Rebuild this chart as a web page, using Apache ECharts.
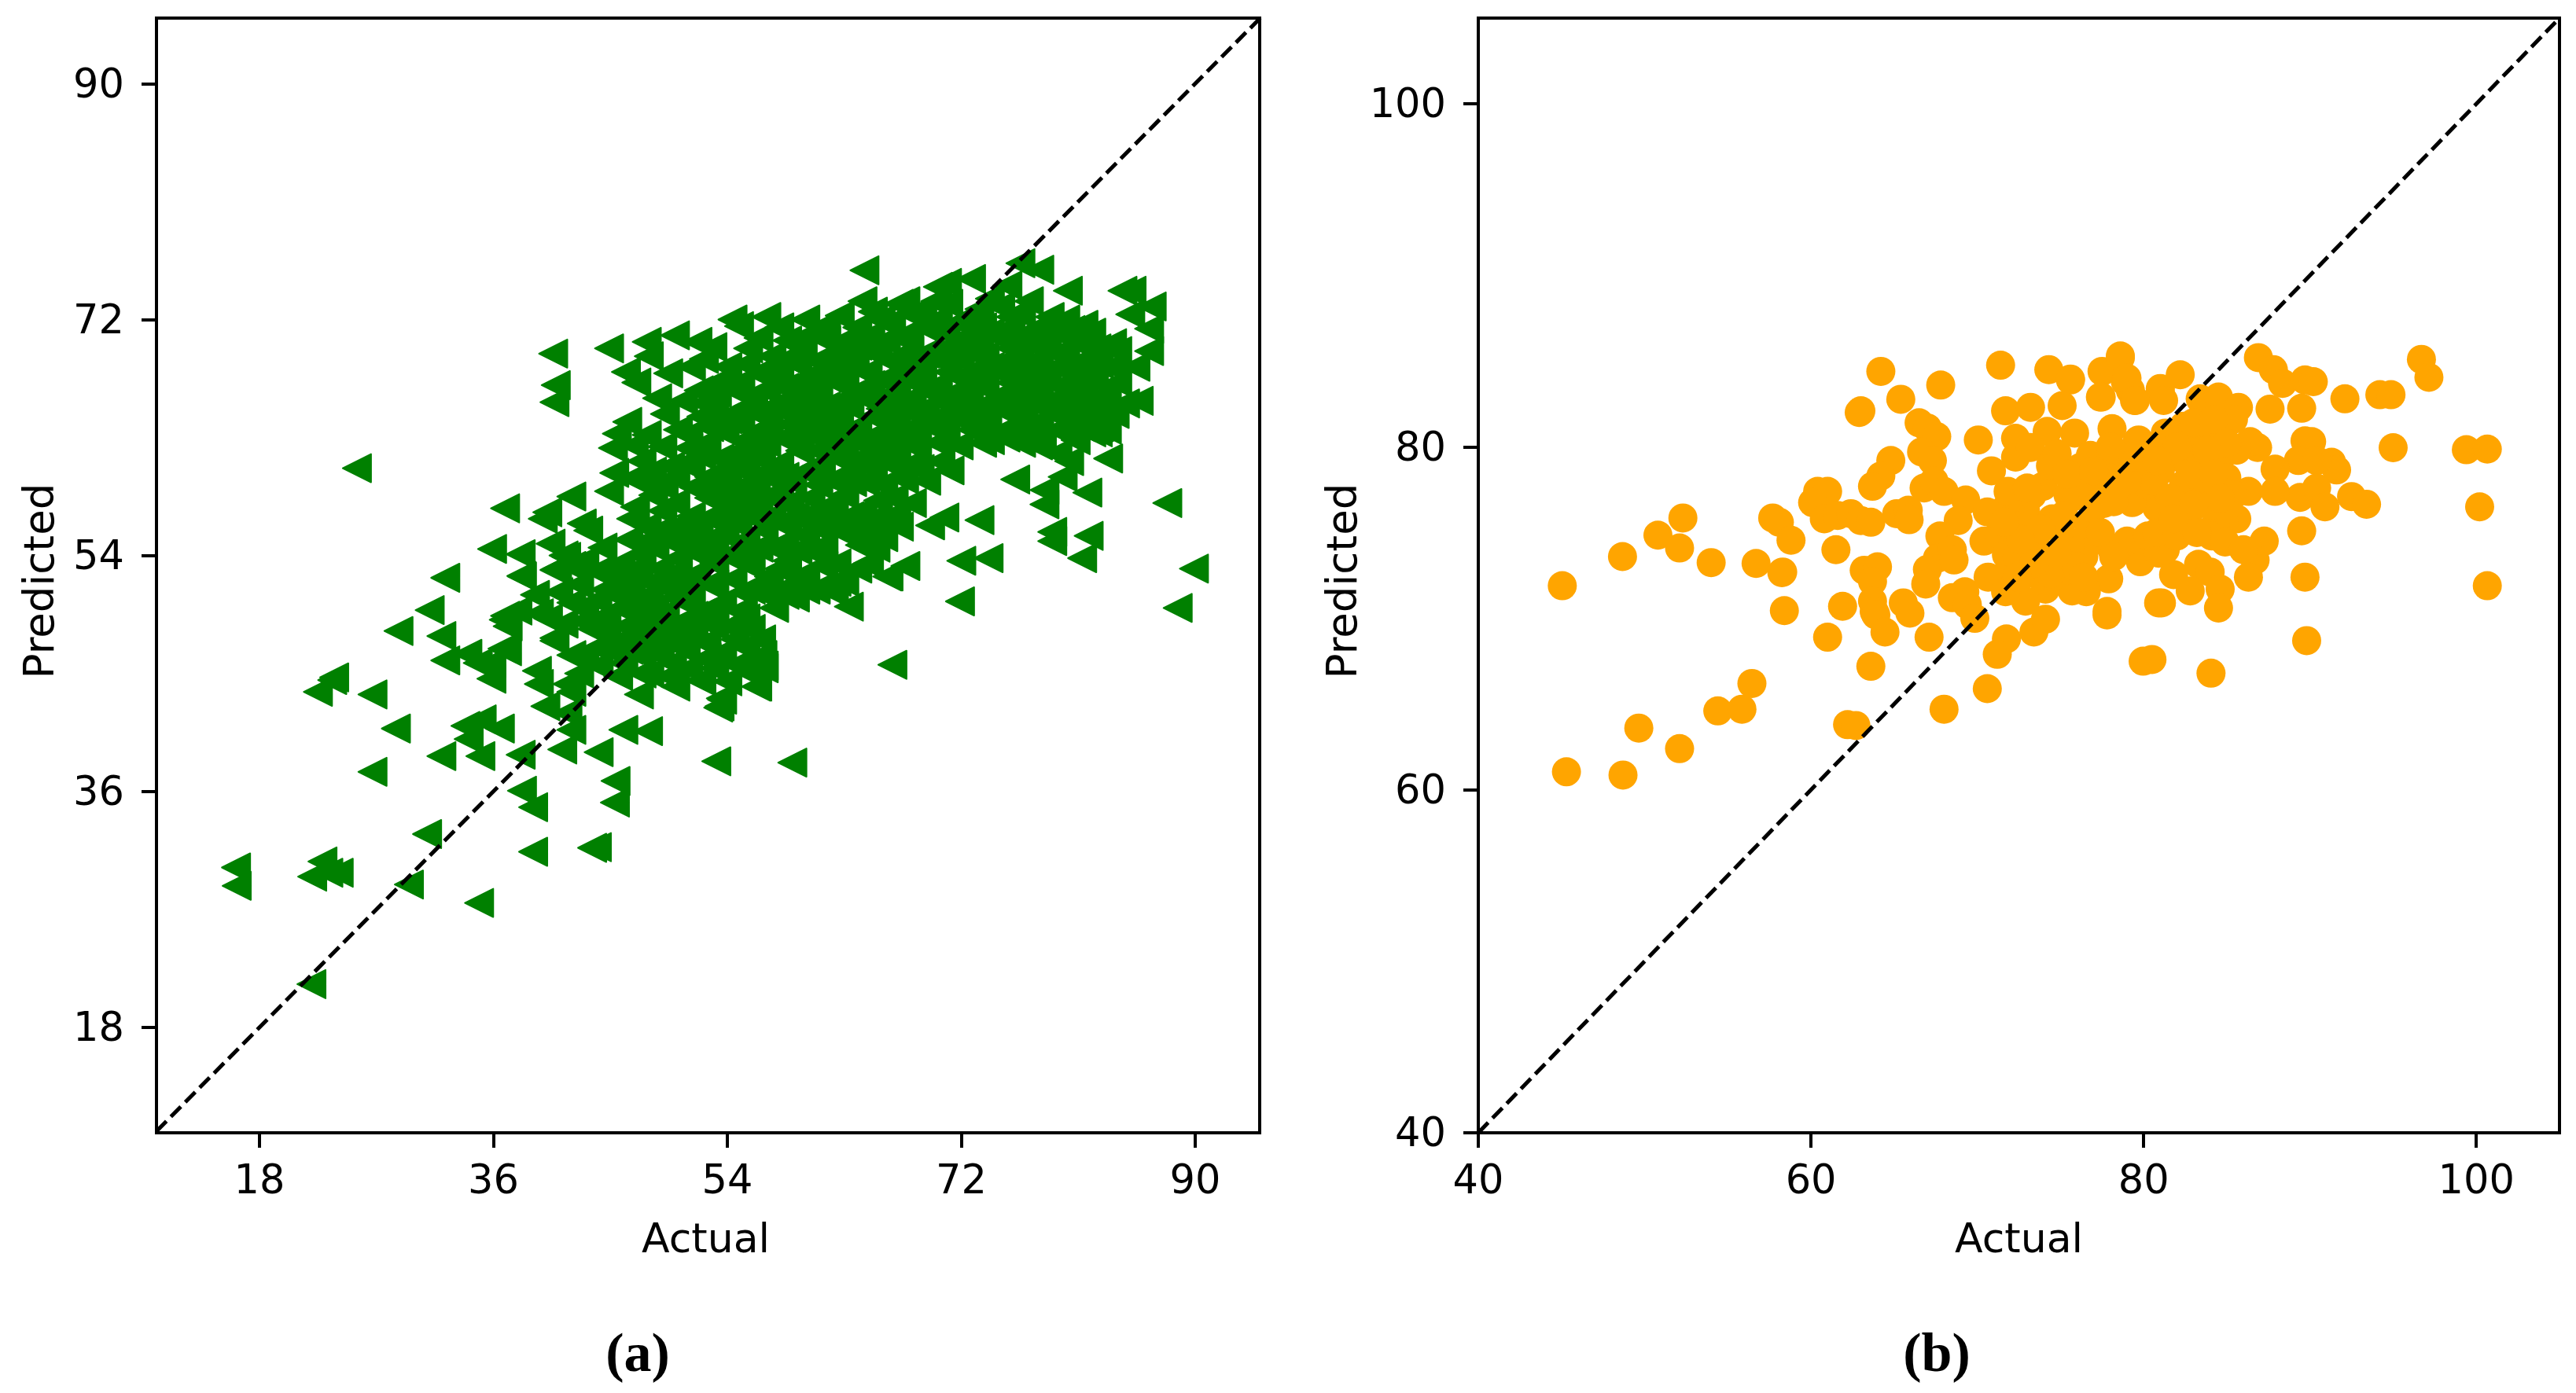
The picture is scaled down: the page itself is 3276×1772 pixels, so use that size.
<!DOCTYPE html>
<html><head><meta charset="utf-8">
<script src="https://cdn.jsdelivr.net/npm/echarts@6/dist/echarts.min.js"></script>
<style>html,body{margin:0;padding:0;background:#fff}#c{width:3276px;height:1772px}</style>
</head><body><div id="c"></div>
<script>
const ticksA = [18, 36, 54, 72, 90];
const ticksB = [40, 60, 80, 100];
const diagonalA = [[10.08, 10.08], [95, 95]];
const diagonalB = [[40, 40], [105, 105]];
const labelsX = 'Actual';
const labelsY = 'Predicted';

const pointsATail = [
[16.2,30.2],[16.25,28.8],[22.85,30.66],[22.06,29.5],[23.3,29.8],[24.1,29.8],[29.5,28.9],[30.9,32.75],[34.9,27.5],[39.06,31.4],
[43.6,31.7],[43.96,31.75],[45.4,36.8],[45.35,35.15],[38.2,36.06],[39.06,34.8],[26.7,37.5],[32,38.7],[35,38.7],[38.1,38.8],
[41.3,39.2],[44.1,39],[53.15,38.3],[59,38.2],[28.5,40.8],[33.85,41],[35.1,41.5],[36.5,40.8],[34.1,40],[46,40.7],[47.9,40.6],
[42,40.7],[40,42.5],[41.7,42],[53.3,42.4],[53.5,43.1],[22.5,43.6],[23.75,44.7],[23.6,44.5],[26.7,43.4],[32.3,46],[34.8,45.8],
[34,46.5],[35.85,44.6],[35.85,45.8],[37.05,46.7],[39.35,45.2],[39.5,44.2],[41.7,44.2],[47.2,43.4],[25.5,60.66],[31.1,49.84],
[28.7,48.24],[32,47.86],[36.9,49.4],[36.8,49.1],[37.1,48.6],[40.7,47.7],[44.7,48.3],[45,46.8],[44.1,45.6],[48.6,48.4],[52.4,46.1],
[52,44.5],[56.3,44],[56.8,45.6],[36.7,46.9],[42,43.6],[22,21.3]
];
const pointsAEdge = [
[40.6,69.4],[44.9,69.8],[40.8,67],[40.7,65.7],[47.8,70.3],[49.97,70.8],[47.96,69.2],[46.2,68],[47,67.2],[49.45,67.9],[51.7,70.3],
[52.85,69.9],[54.4,72],[54.9,71.5],[57,72.2],[46.3,64.2],[45.5,63.3],[45.2,62.2],[47.8,63.2],[49,62.3],[49.2,64.8],[51.8,66.6],
[52.6,66.8],[45.3,60.3],[46.7,59.9],[44.9,58.9],[48.9,59.4],[46.9,57.7],[42,58.5],[36.9,57.6],[40.15,57.3],[39.8,56.8],[42.8,56.44],
[43.3,55.9],[35.9,54.5],[38.1,54.1],[40.4,54.9],[41.6,53.9],[40.7,52.9],[38.2,52.4],[32.3,52.3],[41.4,54],[40.9,53],[38.15,52.44],
[37.85,49.8],[39.5,49.6],[40.7,47.5],[42.9,49],[44.7,48],[45.1,47],[48,47.6],[48.5,48.4],[49.75,45.8],[49.5,44.8],[52,44.4],[52.4,46.2],
[53.4,42.5],[53.6,43],[56.2,44],[56.8,45.4],[56.7,46.4],[56.6,47.6],[55.4,49.2],[56.2,51.4],[57.6,50],[59.2,50.8],[63.35,50.1],
[62.2,51.2],[60,51.4],[64.9,53.4],[66.3,52.4],[66.7,45.66],[64.55,75.76],[76.55,76.3],[78,75.8],[80.2,74.2],[84.4,74.2],[85.1,74.2],
[85,72.4],[86.65,73],[86.45,71.3],[86.45,69.6],[85.4,68.4],[83.6,70.2],[83.6,68.4],[84,67.2],[85.65,65.8],[82,63.4],[82.5,63.4],
[83.3,61.4],[80.3,61.2],[79.8,60],[81.7,58.8],[87.85,58],[76.15,59.8],[78.4,59],[78.4,57.9],[73.4,56.7],[70.7,56.9],[69.6,56.3],
[79,55.8],[79,55.1],[81.8,55.5],[81.3,53.8],[72,53.6],[74.1,53.8],[89.9,53],[88.65,50],[71.9,50.5],[67.7,53.2],[66.4,52.4],[64.8,53.4],
[67.2,56.2],[66.8,58.4],[64.85,56.6],[66.7,60.9],[69.3,59.7],[71.1,60.5],[68.4,62.9],[68.45,62.3],[77.9,62.4],[75.85,63.4],[73.65,64],
[70.2,74.5],[70.9,74.8],[72.75,75.1],[67.2,73.2],[67.7,73.4],[62.65,72.3],[64.4,73.4],[75.55,74.6],[77.2,73.4],[78.8,72.2],[80.4,71.2]
];
const pointsACore = [
[47.3,59.8],[48.3,58.6],[49.1,59.4],[50.75,61],[52,61.6],[53.2,60.2],[54.4,61.6],[55.4,60.4],[56.6,61.4],[58,61],[59.6,62],[60.8,60.8],
[62,61.8],[63,60.2],[64.1,61.2],[66.1,61.6],[50,58],[51.2,57],[52.6,58.4],[54,57.4],[55.2,58.6],[56.4,57.6],[58,58.2],[59.2,57],[60.4,58.4],
[61.6,57.2],[63,58.6],[64.4,57.4],[65.6,58.2],[47.8,56.2],[49.3,55.4],[50.8,55.8],[52.2,55],[53.8,55.6],[55.4,55.2],[56.8,56],[58.4,55],
[60,55.6],[61.4,54.8],[62.8,55.8],[64.2,54.8],[43,53.6],[44.4,54.6],[45.8,53.4],[47.4,54],[48.8,53],[50.2,53.8],[51.6,52.6],[53,53.4],
[54.4,52.2],[55.8,53.2],[57.2,52.4],[58.6,53.6],[60,52.6],[61.4,53.2],[41,51.2],[42.6,51.8],[44,50.6],[45.4,51.2],[46.6,50],[48,51],
[49.2,49.6],[50.6,50.6],[52,49.6],[53.6,50.4],[55,49.8],[46.2,48.6],[50,48.2],[51.4,47.8],[53,48.6],[54.6,47.6],[54,68.4],[53.2,66.4],
[54.8,65],[53.8,63.4],[55.6,69.8],[56.6,68],[56,66.2],[57.2,64.4],[55.4,62.8],[57,62.6],[58.4,66.8],[58.6,70.4],[59.4,68.6],[58.8,64],
[60.4,66],[60.6,71],[61.2,69],[60.6,63.2],[62,67.4],[62.4,65],[62.6,70.2],[62.4,62.8],[63.8,68.4],[64,71.4],[64.4,66.4],[64,63.8],
[65.6,69.6],[65.8,72],[66,67.4],[66.2,64.6],[67.4,70.6],[67.6,68.2],[67.8,65.6],[67.6,63],[69,72.4],[69.2,69.4],[69.4,66.6],[69.4,64],
[70.8,71],[71,73.2],[71,68],[71.2,65.4],[72.6,72.2],[72.6,69.6],[72.6,66.6],[72.8,63.6],[74.2,73.6],[74.2,71],[74.2,68.4],[74.4,65.8],
[74.2,62.8],[75.8,72.2],[75.8,69.8],[75.8,67.2],[75.8,64.8],[77.2,71],[77.2,68.6],[77.2,66.4],[77.2,63.8],[78.6,69.8],[78.6,67.4],[78.8,65],
[80,72],[80,68.6],[80,66.2],[80.2,63.8],[81.4,70],[81.4,67.4],[81.6,65],[82.6,68.6],[82.6,66],[83.8,64.8],[68.2,58],[68.2,61],[70.4,61.2],
[71.8,62.4],[63,52],[64.6,55.4],[65.4,54.6]
];
const pointsAFill = [
[70.2,72],[70,69.4],[70.2,67],[70.4,64.6],[70.2,62.6],[71.8,71.8],[71.9,69],[71.8,66.6],[72,64.4],[73.4,72.8],[73.4,70.4],[73.4,67.8],[73.4,65.2],
[73.6,62.6],[75,73],[75,70.6],[75,68],[75,65.6],[75,63.4],[76.6,72.4],[76.5,69.6],[76.6,67.4],[76.6,65],[76.6,62.6],[78,71.4],[78,69],[78,66.4],
[78,64],[79.4,71],[79.4,68.4],[79.4,66],[79.4,63.6],[79.4,61.8],[80.8,70.4],[80.8,67.8],[80.8,65.2],[80.8,62.8],[82,71],[82.2,67.4],[82.2,64.8],
[83.2,66.4],[83.2,63.6],[84,69.6],[84.6,65.6],[56.4,70.6],[58,71.4],[59.6,70.2],[61.6,71.6],[63.2,70.2],[65,70.8],[66.6,71.8],[68,71],[55,67.2],
[57.4,69.2],[58,67.6],[60.2,67.6],[61,66.6],[62.8,69],[63,67],[64.8,68],[65,65.8],[66.6,68.8],[66.8,66.4],[68.4,67.2],[68.4,64.8],[52,64.6],[53,65],
[55,64],[56.4,64.8],[58,65.4],[59.6,64.8],[61,64.4],[62.6,63.8],[63.4,65.4],[65,63],[66.8,63.6],[68.6,62.6],[51,63.2],[52.4,62.6],[56,61.8],[57.6,59.8],
[59,59.6],[61,59.4],[62.4,59.6],[64.6,59.6],[66,59.4],[67.6,59.8],[68.8,60.6],[50,60],[51.4,59.2],[53.8,59],[55.8,59.6],[49,57.4],[53.2,56.6],[54.8,56.4],
[56.2,58.8],[57.4,57],[58.6,56.2],[60,57],[62.2,56.4],[63.4,57],[65.8,56.4],[67,57.2],[44,52.8],[46.4,55.2],[47.2,52.4],[49.4,51.8],[50.8,52.2],
[52.6,51.8],[54.6,54],[55.8,51.4],[57.6,54.6],[59,51.8],[60.8,51.4],[62.4,53.4],[64,53],[66,55.4],[42,53.2],[39.2,51],[40.2,49.2],[41.4,48.8],[43.6,48.4],
[43,46.4],[46,45.8],[47.4,46.4],[47.4,45],[48.8,46.4],[50.8,46.8],[51,45.4],[53.6,46.6],[54.8,45.6],[55.4,47],[46,47.6],[49.6,47.4],[42,46.4],[42.6,45],
[48.4,50],[44.8,52.4],[46.4,52.4],[48.6,66],[50.6,65.8],[50.2,63.6],[51.2,68.4],[52.2,69],[46.8,62.4],[47.4,61.2]
];
const pointsAFillUpper = [
[70.8,63.6],[72.2,65.6],[72.4,67.8],[72.2,70.6],[73.6,71.4],[73.8,69.2],[73.8,66.8],[74,64.4],[75.4,66.4],[75.4,68.8],[75.4,71.2],[75.4,63],[76.8,64],[77,66],
[77,68],[76.9,70.4],[78.4,65.4],[78.4,67.8],[78.4,70.2],[78.2,62.8],[79.8,64.8],[79.8,67],[79.8,69.6],[81.2,63.8],[81.2,66.4],[81.2,68.8],[81.4,71.6],[82.4,69.8],
[82.6,63.8],[83,65],[70.8,66],[70.6,68.8],[71.2,70],[69.6,71.2],[70,73.4],[55.4,68.6],[57,66.6],[57.6,65.4],[57.8,68.4],[58.4,63],[59.8,69.4],[60,67],[59.8,63.8],
[61.6,70.4],[61.4,67.8],[61.6,65.4],[61.4,62.8],[63,68.2],[63.2,66],[63.4,63.4],[64.6,69.8],[65,67],[65.2,64.6],[65.2,72.6],[66.2,70.4],[66.4,65.6],[66.4,63],
[68,69.6],[68.2,66],[68.2,72.4],[68.6,68.6],[69.2,65.2],[54.6,66.6],[55,62],[56.2,63.4],[54,64.4],[52.6,63.8],
[59,62.6],[60,65],[61,62],[63,62],[64.6,62.4],[66,62.2],[61.8,63.8],[63.4,61],[65.8,65.2],[67,64.8],[67,67.2],[64,70],[62,69],[60,72],[58.6,69],[57,67.6],[56.6,63.6],
[59,65.8],[55.6,65.4],[53.6,67.4],[52.2,65.6],[67.4,69.2],[69,67.8],[65.4,61.6],[68.4,63.8],[70,63.8]
];
const pointsAFillLower = [
[51.2,61],[52.6,60],[54,60.2],[55,61.2],[57,60.4],[58.4,60],[60,60.4],[61.2,60.2],[63.6,59.6],[65.2,60.6],[67,61.8],[50.4,56.4],[52.8,57],[54.4,58.6],[55.8,57],
[57.4,58.6],[58.8,58],[60.8,56.2],[62.2,58],[63.8,55.8],[65,56.6],[52.4,53.8],[54,54],[55.4,54],[56.4,54.6],[58,53],[59.4,54.4],[60.8,54.2],[62.4,52],[48.4,54.6],
[49.8,52.6],[46.6,51.4],[47.6,50],[44.6,49.4],[51.2,50.6],[53,51.8],[55.2,51.2],[57,51],[58.4,51],[49.4,48],[47.2,47.6],[52.4,47.4],
[47.6,55],[46.6,56.8],[48.6,55.8],[50.2,54.8],[51.4,54.4],[53,54.6],[51.8,56],[53.4,58],[55,57.6],[52.6,59.4],[49.6,60.8],[48.2,60.4],[51,62.2],[53.4,61.4],[55.6,62.2],
[44.6,51.4],[43,50],[42,50.4],[45.8,50],[47,53],[48.4,52],[50,50.8],[51.4,49.4],[53,49.8],[54.2,48.6],[55.8,48.4],[48.2,49],[50.8,49],[47,49],[44,47],[45.6,44.8],
[46.4,46.8],[48,45],[50,44],[55.4,46],[55.8,45],[53,45.4],[54,44.4]
];
const pointsBEdge = [
[45.05,71.9],[48.67,73.6],[50.8,74.85],[52.3,75.85],[52.1,74.1],[54,73.25],[56.7,73.2],[58.25,72.66],[57.7,75.85],[58.1,75.6],[58.8,74.55],
[61.5,74],[45.3,61.05],[48.7,60.86],[49.65,63.6],[52.1,62.4],[54.4,64.6],[55.85,64.7],[56.45,66.2],[58.3,72.7],[58.4,70.45],[61.9,70.7],
[61,68.9],[63.6,67.2],[67.1,68.9],[70.6,65.9],[68,64.7],[62.2,63.8],[62.7,63.75],[64.2,84.4],[67.8,83.6],[65.4,82.77],[71.4,84.76],
[74.3,84.5],[75.6,83.9],[77.5,84.4],[78.6,85.3],[62.9,82],[63,82.1],[66.5,81.4],[67,81.1],[67.56,80.6],[66.65,79.7],[67.3,79.2],[64.8,79.2],
[64.2,78.3],[63.7,77.7],[70.06,80.4],[71.7,82.1],[73.2,82.3],[75.1,82.4],[77.4,82.9],[78.1,81.06],[78.9,83.8],[79.2,83.3],[79.45,82.7],
[81,83.2],[72.3,80.5],[74.2,80.9],[75.85,80.8],[72.3,79.4],[73.2,79.96],[70.85,78.6],[74.5,78.9],[66.8,77.6],[67.4,78],[68,77.4],[69.3,76.9],
[68.85,75.7],[60.4,77.4],[61,77.4],[60.1,76.75],[60.8,75.8],[61.6,76],[62.4,76.1],[63,75.7],[63.6,75.6],[65.15,76.1],[65.85,76.3],[65.9,75.75],
[63.2,72.8],[64,73],[63.7,72.15],[63.7,71],[63.8,70.4],[63.9,70.2],[64.45,69.2],[65.55,70.9],[65.95,70.3],[67.75,74.8],[67.6,73.5],[68.5,74],
[67,72.85],[66.9,72],[68.6,73.4],[68.5,71.2],[69.25,71.55],[69.4,70.8],[69.85,70],[70.4,74.5],[71.3,74.9],[71.75,73.7],[70.65,72.4],[71.3,72.3],
[71.7,76.4],[71.85,77.4],[72.9,76.3],[72.55,75.4],[73.3,77.2],[73.95,77.7],[74.5,75.8],[75.45,77.2],[76.2,78.8],[76.8,79.5],[71.75,68.8],
[71.2,67.9],[73.4,69.2],[74.1,69.95],[79.97,67.5],[80.5,67.6],[77.8,70.4],[77.8,70.2],[79.8,73.3],[77.9,72.3],[76.55,71.55],[75.7,71.6],
[74.1,71.7],[72.9,71],[71.7,71.55],[77.6,76.7],[79.4,76.8],[78.4,79.4],[79.6,80.3],[76.7,75.4],[78.05,74.1],[79,74.5],[80.25,74.8],[80.9,73.8],
[80.9,70.9],[75.5,72.8],[74.6,73.6],[73.6,74],[76.4,73.6],[77,74.6],[75.6,74.4],[73,72.6],[74.4,72.6],[72.4,73.6],[78.6,85.2],[75.6,83.95],
[79,84],[82.2,84.2],[81,83.4],[77.45,82.9],[79.5,82.7],[81.2,82.7],[83.4,82.8],[84.5,82.9],[85.7,82.3],[86.9,85.2],[87.8,84.5],[88.35,83.7],
[89.7,83.9],[90.2,83.8],[89.5,82.25],[87.6,82.2],[92.1,82.8],[85.4,81.6],[84.4,80.7],[82.4,81.2],[81.3,80.8],[79.7,80.4],[89.7,80.35],[90.1,80.3],
[89.3,79.2],[91.3,79.1],[91.6,78.65],[90.4,79.2],[87.9,78.7],[86.85,79.96],[86.4,80.3],[92.5,77.1],[93.4,76.65],[89.4,77.05],[87.9,77.4],[86.3,77.4],
[90.4,77.6],[90.9,76.5],[89.5,75.1],[89.7,72.4],[89.8,68.7],[87.25,74.5],[86.7,73.4],[86.3,72.4],[85.6,75.8],[84.8,75.7],[84.3,75.45],[84.1,74.8],
[84.9,74.45],[86,74],[83.3,73.15],[84,72.7],[81.8,72.55],[82.8,71.6],[84.6,71.7],[84.5,70.6],[81.3,74],[81.07,70.9],[82.7,76.1],[81.35,76.3],[80.8,76.45],
[79.3,76.75],[75.7,77.05],[74.4,78.9],[96.7,85.1],[97.15,84.05],[94.2,83.04],[94.87,83.04],[95,79.95],[99.4,79.83],[100.66,79.87],[100.2,76.5],[100.66,71.9],
[84.05,66.8],[82,79.4],[83.4,79],[84.8,79.6],[81,78.6],[82.4,77.8],[83.8,77.6],[85,78.2],[80.2,77.8],[85.6,79.8],[83,80.4],[81.6,79.8],[80.6,78],
[84,76.6],[82.6,75.6],[78,78.2],[76.8,77.6],[77,76.4],[75,75.2],[79.8,79.2],[70.6,76.2]
];
const pointsBFill = [
[80.4,80],[82,80],[83,81.4],[84.2,81.6],[85,80.2],[83.8,79.8],[82.8,78.4],[84.2,78.4],[85.4,77.2],[81.6,77],[83,76.6],[84.6,77],[79,78],[79.2,79.4],
[80.8,79.2],[78.2,76.8],[80.8,75],[82,74.8],[83.2,75],[77.4,75],[78.2,73.6],[76,73],[76.4,72.4],[74.8,73.8],[73.4,73.2],[72.4,72.4],
[75.2,76],[73.8,75.2],[72.6,74.6],[71.6,75.6],[73,77.6],[74.8,79.6],[75.4,78.4],[77,78.6],[78,80],[81.8,75.8]
];

const pointsA = [...pointsATail, ...pointsAEdge, ...pointsACore, ...pointsAFill, ...pointsAFillUpper, ...pointsAFillLower];
const pointsB = [...pointsBEdge, ...pointsBFill];

const font = 'DejaVu Sans';
function xAxisOf(gridIndex, min, max, ticks, name, pad) {
  return {
    type: 'value', gridIndex, min, max, name, nameLocation: 'middle', nameGap: 112,
    nameTextStyle: { fontFamily: font, fontSize: 52, color: '#000', padding: [0, pad, 0, 0] },
    splitLine: { show: false }, axisLine: { show: false },
    axisTick: { show: true, length: 19, customValues: ticks, lineStyle: { color: '#000', width: 4 } },
    axisLabel: { fontFamily: font, fontSize: 51, color: '#000', margin: 38, customValues: ticks, showMinLabel: true, showMaxLabel: true }
  };
}
function yAxisOf(gridIndex, min, max, ticks, name, gap) {
  return {
    type: 'value', gridIndex, min, max, name, nameLocation: 'middle', nameGap: gap,
    nameTextStyle: { fontFamily: font, fontSize: 53, color: '#000', padding: [0, 14, 0, 0] },
    splitLine: { show: false }, axisLine: { show: false },
    axisTick: { show: true, length: 19, customValues: ticks, lineStyle: { color: '#000', width: 4 } },
    axisLabel: { fontFamily: font, fontSize: 51, color: '#000', margin: 41, verticalAlign: 'top', lineHeight: 8, customValues: ticks, showMinLabel: true, showMaxLabel: true }
  };
}
function dash(index, data) {
  return { type: 'line', xAxisIndex: index, yAxisIndex: index, data, showSymbol: false, symbol: 'none', silent: true, z: 5,
    lineStyle: { color: '#000', width: 5, type: [18, 8] } };
}
const chart = echarts.init(document.getElementById('c'), null, { renderer: 'canvas' });
chart.setOption({
  animation: false,
  backgroundColor: '#fff',
  grid: [
    { left: 199, top: 23, width: 1403, height: 1418, show: true, borderColor: '#000', borderWidth: 4, backgroundColor: 'transparent' },
    { left: 1880, top: 23, width: 1375, height: 1418, show: true, borderColor: '#000', borderWidth: 4, backgroundColor: 'transparent' }
  ],
  xAxis: [xAxisOf(0, 10.08, 94.96, ticksA, labelsX, 6), xAxisOf(1, 40, 105, ticksB, labelsX, 0)],
  yAxis: [yAxisOf(0, 9.96, 95, ticksA, labelsY, 118), yAxisOf(1, 40, 105, ticksB, labelsY, 134)],
  series: [
    { type: 'scatter', xAxisIndex: 0, yAxisIndex: 0, data: pointsA, symbol: 'triangle', symbolRotate: 90, symbolSize: 36,
      itemStyle: { color: '#008000', borderColor: '#008000', borderWidth: 2, borderJoin: 'round', opacity: 1 }, z: 2 },
    { type: 'scatter', xAxisIndex: 1, yAxisIndex: 1, data: pointsB, symbol: 'circle', symbolSize: 37,
      itemStyle: { color: '#ffa500', opacity: 1 }, z: 2 },
    dash(0, diagonalA), dash(1, diagonalB)
  ],
  graphic: [
    { type: 'text', x: 811, y: 1726, style: { text: '(a)', font: 'bold 70px "Liberation Serif"', fill: '#000', textAlign: 'center', textVerticalAlign: 'middle' } },
    { type: 'text', x: 2463, y: 1726, style: { text: '(b)', font: 'bold 70px "Liberation Serif"', fill: '#000', textAlign: 'center', textVerticalAlign: 'middle' } }
  ]
});
</script></body></html>
